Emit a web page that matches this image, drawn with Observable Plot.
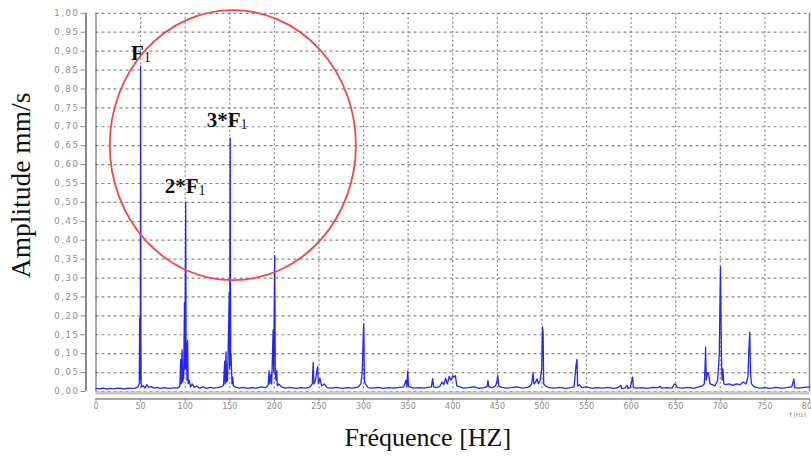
<!DOCTYPE html>
<html>
<head>
<meta charset="utf-8">
<script src="https://cdn.jsdelivr.net/npm/d3@7"></script>
<script src="https://cdn.jsdelivr.net/npm/@observablehq/plot@0.6"></script>
<style>
  html, body { margin: 0; padding: 0; background: #fff; }
</style>
</head>
<body>
<div id="chart"></div>
<script>
// Frequencies (Hz) of the spectrum trace
const freq = [
  0, 4, 8, 12, 16, 20, 24, 28, 32, 36, 40, 44, 47, 48.5,
  49, 49.4, 49.7, 50, 50.3, 50.6, 51.5, 53, 55, 57, 59, 62, 65, 68, 72, 76, 80, 84, 88, 91, 94,
  95, 95.6, 96.5, 97.2, 98.3, 99.2, 99.6, 100.6, 101, 101.5, 102, 102.7, 103.3, 104.5, 106, 108, 110, 113, 116, 120, 124, 128, 132, 136, 140, 143,
  144.3, 144.8, 145.8, 146.4, 147.5, 149.4, 149.8, 150.5, 150.9, 151.4, 152.5, 153.3, 154, 156, 160, 165, 170, 175, 180, 185, 190, 193,
  194, 194.8, 196, 197, 198.6, 199.2, 200.4, 201, 201.8, 202.7, 203.3, 205, 208, 212, 218, 224, 230, 236, 240, 242.5,
  243.5, 244.3, 246, 248.5, 249.3, 251, 253, 256, 259, 264, 270, 276, 282, 288, 294, 297,
  298.5, 299.5, 300.2, 300.9, 302, 305, 310, 316, 322, 328, 334, 340, 345,
  347.5, 348.5, 349.5, 350.3, 352, 356, 362, 368, 372, 376, 377.5, 378.5, 382, 386, 388, 390, 392, 394, 396, 398, 400, 401.5, 403, 404.5,
  408, 412, 418, 424, 430, 435, 438.5, 439.5, 440.5, 444, 448, 449.5, 450.5, 451.5, 455, 460, 466, 472, 478, 484, 487,
  488.5, 490, 491, 493, 494.5, 496, 498, 499.8, 500.6, 501.3, 502, 504, 508, 514, 520, 526, 532, 536,
  538.5, 539.3, 540, 542, 545, 550, 556, 562, 568, 574, 580, 585, 588.5, 589.5, 593, 595.5, 596.5, 599, 601.7, 602.5,
  606, 612, 618, 624, 630, 632.5, 634, 640, 646, 648.5, 650, 652, 658, 664, 670, 676, 680, 682,
  683, 683.5, 684.2, 685.5, 687, 688.5, 691, 694, 697, 698.8, 700.2, 701.3, 702, 702.8, 704, 706, 710, 714, 718, 722, 726, 729,
  731, 732, 733, 733.8, 735, 738, 744, 750, 756, 762, 768, 774, 780, 782.5, 783.5, 788, 794, 800
];
// Amplitudes (mm/s)
const amp = [
  0.008, 0.007, 0.009, 0.006, 0.008, 0.007, 0.009, 0.008, 0.007, 0.009, 0.008, 0.009, 0.012, 0.02,
  0.195, 0.03, 0.15, 0.86, 0.15, 0.02, 0.012, 0.015, 0.009, 0.018, 0.011, 0.013, 0.009, 0.011, 0.008, 0.01, 0.009, 0.008, 0.01, 0.009, 0.013,
  0.085, 0.02, 0.11, 0.025, 0.04, 0.235, 0.06, 0.5, 0.06, 0.13, 0.03, 0.135, 0.02, 0.03, 0.012, 0.02, 0.011, 0.014, 0.009, 0.012, 0.008, 0.011, 0.009, 0.01, 0.012, 0.016,
  0.08, 0.02, 0.105, 0.025, 0.03, 0.262, 0.06, 0.67, 0.07, 0.1, 0.02, 0.038, 0.015, 0.012, 0.009, 0.011, 0.008, 0.01, 0.009, 0.012, 0.01, 0.015,
  0.055, 0.02, 0.045, 0.02, 0.163, 0.05, 0.36, 0.05, 0.03, 0.055, 0.015, 0.02, 0.012, 0.009, 0.011, 0.008, 0.01, 0.009, 0.012, 0.02,
  0.077, 0.02, 0.03, 0.066, 0.02, 0.035, 0.015, 0.02, 0.01, 0.009, 0.011, 0.008, 0.01, 0.009, 0.012, 0.02,
  0.05, 0.137, 0.179, 0.03, 0.02, 0.01, 0.009, 0.011, 0.008, 0.01, 0.009, 0.011, 0.012,
  0.03, 0.012, 0.054, 0.015, 0.012, 0.009, 0.01, 0.009, 0.011, 0.012, 0.034, 0.012, 0.01, 0.015, 0.025, 0.018, 0.035, 0.02, 0.04, 0.03, 0.042, 0.038, 0.042, 0.015,
  0.012, 0.009, 0.01, 0.012, 0.008, 0.01, 0.013, 0.029, 0.012, 0.01, 0.015, 0.025, 0.042, 0.015, 0.011, 0.009, 0.01, 0.012, 0.009, 0.011, 0.015,
  0.02, 0.05, 0.02, 0.025, 0.033, 0.02, 0.03, 0.06, 0.17, 0.155, 0.02, 0.015, 0.01, 0.009, 0.011, 0.008, 0.01, 0.012,
  0.075, 0.085, 0.015, 0.018, 0.01, 0.012, 0.008, 0.01, 0.009, 0.011, 0.008, 0.01, 0.016, 0.008, 0.009, 0.016, 0.008, 0.01, 0.038, 0.01,
  0.009, 0.01, 0.008, 0.011, 0.01, 0.014, 0.009, 0.01, 0.009, 0.02, 0.018, 0.01, 0.009, 0.011, 0.008, 0.012, 0.015, 0.02,
  0.07, 0.117, 0.03, 0.05, 0.045, 0.02, 0.018, 0.015, 0.03, 0.095, 0.33, 0.09, 0.03, 0.06, 0.02, 0.018, 0.02, 0.016, 0.02, 0.018, 0.025, 0.02,
  0.04, 0.11, 0.157, 0.05, 0.02, 0.012, 0.009, 0.01, 0.008, 0.011, 0.009, 0.01, 0.012, 0.033, 0.01, 0.009, 0.011, 0.012
];

const xTicks = [0, 50, 100, 150, 200, 250, 300, 350, 400, 450, 500, 550, 600, 650, 700, 750, 800];
const yTicks = [0, 0.05, 0.10, 0.15, 0.20, 0.25, 0.30, 0.35, 0.40, 0.45, 0.50, 0.55, 0.60, 0.65, 0.70, 0.75, 0.80, 0.85, 0.90, 0.95, 1.00];

// Harmonic annotations: label, subscript, anchor frequency, amplitude
const annText = ["F", "2*F", "3*F"];
const annSub = ["1", "1", "1"];
const annX = [53.5, 115, 162];
const annY = [0.894, 0.542, 0.716];

// Highlight ellipse (data units): centre frequency, centre amplitude, radii
const ellCx = 154, ellCy = 0.650, ellRx = 138, ellRy = 0.357;

const xTitle = "Fréquence [HZ]";
const yTitle = "Amplitude mm/s";

const spectrum = freq.map((f, i) => ({f, a: amp[i]}));
const ann = annText.map((t, i) => ({t, s: annSub[i], x: annX[i], y: annY[i]}));

const serif = "'Liberation Serif', 'Times New Roman', serif";

const chart = Plot.plot({
  width: 811,
  height: 463,
  marginLeft: 95.5,
  marginRight: 2,
  marginTop: 12.8,
  marginBottom: 72,
  x: {domain: [0, 800]},
  y: {domain: [0, 1]},
  style: {background: "#fff", fontFamily: "'DejaVu Sans', sans-serif"},
  marks: [
    Plot.gridY(yTicks, {stroke: "#7a7a7a", strokeOpacity: 0.9, strokeDasharray: "3,3", strokeWidth: 1.2}),
    Plot.gridX(xTicks.filter(d => d > 0 && d < 800), {stroke: "#7a7a7a", strokeOpacity: 0.9, strokeDasharray: "2,2.5", strokeWidth: 1.2}),
    Plot.ruleX([0], {stroke: "#555", strokeWidth: 1}),
    Plot.ruleX([800], {stroke: "#888", strokeWidth: 1.5}),
    Plot.ruleX([0], {dx: -10, stroke: "#8a8a8a", strokeWidth: 2}),
    Plot.ruleY([0], {dy: 1.5, stroke: "#c8c8c8", strokeWidth: 3}),
    Plot.ruleY([0], {dy: 7.5, stroke: "#8a8a8a", strokeWidth: 1.5}),
    Plot.axisY(yTicks, {dx: -10, tickSize: 5, tickPadding: 1.5, color: "#8a8a8a", fontSize: 8.5,
      tickFormat: d => d.toFixed(2).replace(".", ","), label: null}),
    Plot.axisX(xTicks, {dy: 7, tickSize: 3.5, tickPadding: 1.5, color: "#8a8a8a", fontSize: 8, label: null}),
    Plot.line(spectrum, {x: "f", y: "a", stroke: "#2424ff", strokeWidth: 1.3}),
    Plot.text(ann, {x: "x", y: "y", text: "t", textAnchor: "end", fontFamily: serif, fontWeight: "bold", fontSize: 21, fill: "#111"}),
    Plot.text(ann, {x: "x", y: "y", text: "s", textAnchor: "start", dy: 4, fontFamily: serif, fontSize: 14, fill: "#111"}),
    Plot.text([yTitle], {frameAnchor: "left", textAnchor: "middle", dx: -74.5, dy: -17, rotate: -90, fontFamily: serif, fontSize: 27.5, fill: "#111"}),
    Plot.text([xTitle], {frameAnchor: "bottom", textAnchor: "middle", dx: -25, dy: 54, fontFamily: serif, fontSize: 26, fill: "#111"}),
    Plot.text(["f"], {frameAnchor: "bottom-right", dx: -20, dy: 25, fontSize: 6, fill: "#b0306a", textAnchor: "start"}),
    Plot.text(["[Hz]"], {frameAnchor: "bottom-right", dx: -16, dy: 25, fontSize: 6, fill: "#8a8a8a", textAnchor: "start"})
  ]
});

const sx = chart.scale("x"), sy = chart.scale("y");
const px0 = sx.apply(0), py0 = sy.apply(0);
d3.select(chart).append("ellipse")
  .attr("cx", sx.apply(ellCx))
  .attr("cy", sy.apply(ellCy))
  .attr("rx", sx.apply(ellRx) - px0)
  .attr("ry", py0 - sy.apply(ellRy))
  .attr("fill", "none")
  .attr("stroke", "#f04848")
  .attr("stroke-width", 1.8);

d3.select(chart).selectAll('g[aria-label="y-axis tick label"] text').attr("letter-spacing", 1.6);

document.getElementById("chart").appendChild(chart);
</script>
</body>
</html>
